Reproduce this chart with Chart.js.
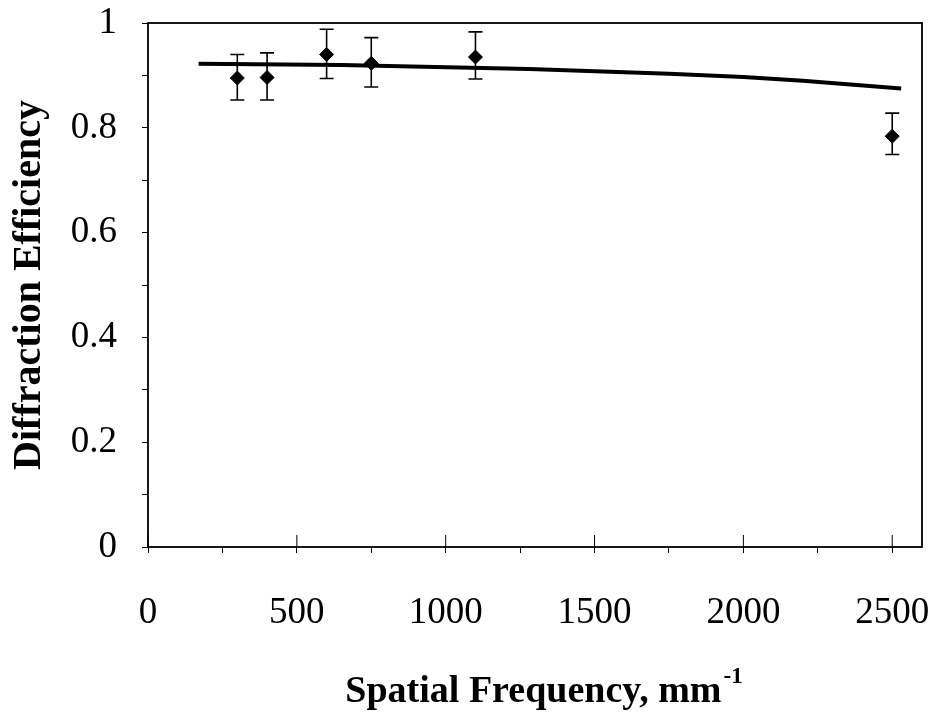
<!DOCTYPE html>
<html>
<head>
<meta charset="utf-8">
<script src="https://cdn.jsdelivr.net/npm/chart.js@4/dist/chart.umd.min.js"></script>
<style>
  body { margin: 0; background: #fff; }
  canvas { display: block; }
</style>
</head>
<body>
<canvas id="effChart" width="939" height="715"></canvas>
<script>
// measured points (spatial frequency in mm^-1)
const freq = [300, 400, 600, 750, 1100, 2500];
const efficiency = [0.895, 0.896, 0.940, 0.923, 0.935, 0.784];
const errLow = [0.853, 0.853, 0.894, 0.878, 0.893, 0.749];
const errHigh = [0.940, 0.943, 0.988, 0.972, 0.983, 0.828];

// theory curve
const fitFreq = [170, 650, 1280, 1750, 2000, 2200, 2530];
const fitEff = [0.922, 0.920, 0.912, 0.903, 0.897, 0.890, 0.875];

const xMajor = 500;

const serif = "'Liberation Serif', 'Times New Roman', serif";

// keep tick label overhang from pushing the plot area around
function noOverhang(scale) {
  scale.paddingTop = 0;
  scale.paddingBottom = 0;
  scale.paddingLeft = 0;
  scale.paddingRight = 0;
}

const framePlugin = {
  id: 'frame',
  beforeDatasetsDraw(chart) {
    const ctx = chart.ctx;
    const x = chart.scales.x, y = chart.scales.y;
    ctx.save();
    ctx.strokeStyle = '#000';
    ctx.lineWidth = 1.6;
    for (let i = 0; i < freq.length; i++) {
      const px = x.getPixelForValue(freq[i]);
      const top = y.getPixelForValue(errHigh[i]);
      const bot = y.getPixelForValue(errLow[i]);
      ctx.beginPath();
      ctx.moveTo(px, top); ctx.lineTo(px, bot);
      ctx.moveTo(px - 7, top); ctx.lineTo(px + 7, top);
      ctx.moveTo(px - 7, bot); ctx.lineTo(px + 7, bot);
      ctx.stroke();
    }
    ctx.restore();
  },
  afterDraw(chart) {
    const ctx = chart.ctx;
    const a = chart.chartArea;
    const x = chart.scales.x;
    ctx.save();
    ctx.strokeStyle = '#000';
    ctx.lineWidth = 1.8;
    ctx.strokeRect(a.left, a.top, a.right - a.left, a.bottom - a.top);
    // major x ticks also point into the plot
    ctx.lineWidth = 1;
    x.ticks.forEach(t => {
      if (t.value % xMajor === 0) {
        const px = x.getPixelForValue(t.value);
        ctx.beginPath();
        ctx.moveTo(px, a.bottom - 12); ctx.lineTo(px, a.bottom);
        ctx.stroke();
      }
    });
    // x axis title with superscript
    const main = 'Spatial Frequency, mm';
    const sup = '-1';
    ctx.fillStyle = '#000';
    ctx.textBaseline = 'alphabetic';
    ctx.font = 'bold 38px ' + serif;
    const w1 = ctx.measureText(main).width;
    ctx.font = 'bold 23px ' + serif;
    const w2 = ctx.measureText(sup).width;
    const cx = (a.left + a.right) / 2 + 8;
    const start = cx - (w1 + w2) / 2;
    ctx.font = 'bold 38px ' + serif;
    ctx.fillText(main, start, 702);
    ctx.font = 'bold 23px ' + serif;
    ctx.fillText(sup, start + w1 + 2, 683);
    ctx.restore();
  }
};

new Chart(document.getElementById('effChart'), {
  type: 'scatter',
  data: {
    datasets: [
      {
        label: 'Measured',
        data: freq.map((f, i) => ({ x: f, y: efficiency[i] })),
        pointStyle: 'rectRot',
        pointRadius: 7,
        backgroundColor: '#000',
        borderColor: '#000',
        showLine: false
      },
      {
        label: 'Theory',
        data: fitFreq.map((f, i) => ({ x: f, y: fitEff[i] })),
        showLine: true,
        pointRadius: 0,
        borderColor: '#000',
        borderWidth: 4,
        tension: 0
      }
    ]
  },
  options: {
    responsive: false,
    animation: false,
    layout: { padding: { top: 23, right: 17, bottom: 0, left: 0 } },
    plugins: { legend: { display: false }, tooltip: { enabled: false } },
    scales: {
      x: {
        type: 'linear',
        min: 0,
        max: 2600,
        afterFit(scale) { scale.height = 168; noOverhang(scale); },
        grid: { drawOnChartArea: false, tickLength: 6, color: '#000' },
        border: { display: false },
        ticks: {
          stepSize: 250,
          includeBounds: false,
          autoSkip: false,
          maxRotation: 0,
          padding: 38,
          color: '#000',
          font: { family: serif, size: 37 },
          callback: v => (v % xMajor === 0 ? String(v) : '')
        }
      },
      y: {
        min: 0,
        max: 1,
        afterFit(scale) { scale.width = 148; noOverhang(scale); },
        grid: { drawOnChartArea: false, tickLength: 6, color: '#000' },
        border: { display: false },
        ticks: {
          stepSize: 0.1,
          autoSkip: false,
          padding: 25,
          color: '#000',
          font: { family: serif, size: 37 },
          callback: v => {
            const k = Math.round(v * 10);
            return k % 2 === 0 ? String(k / 10) : '';
          }
        },
        title: {
          display: true,
          text: 'Diffraction Efficiency',
          color: '#000',
          font: { family: serif, size: 40, weight: 'bold' },
          padding: { top: 6, bottom: 0 }
        }
      }
    }
  },
  plugins: [framePlugin]
});
</script>
</body>
</html>
